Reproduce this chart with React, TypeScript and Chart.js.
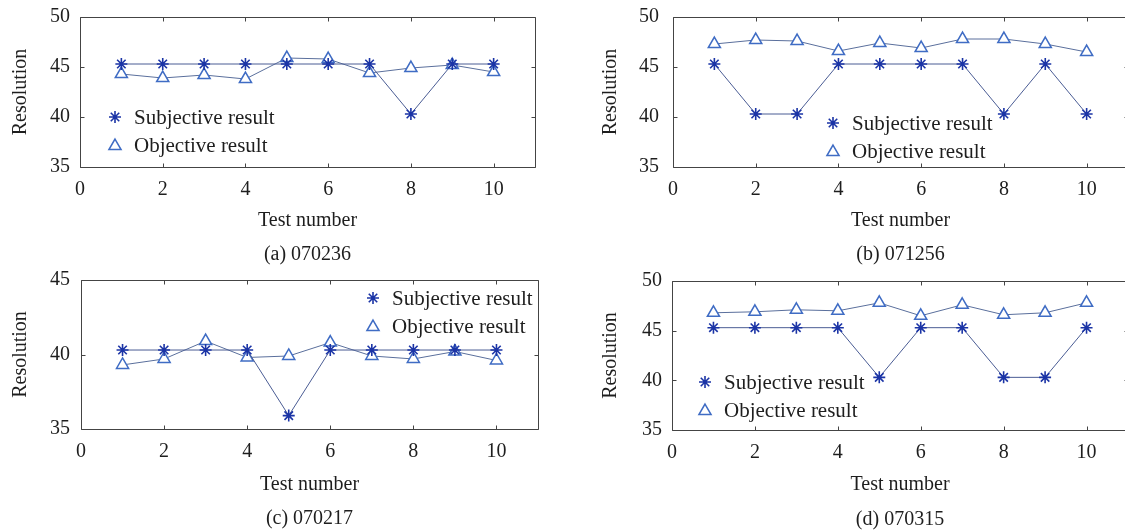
import React, { useEffect, useRef } from 'react';
import { Chart, registerables } from 'chart.js';

Chart.register(...registerables);

// ---------- data ----------
const testNumbers = [1, 2, 3, 4, 5, 6, 7, 8, 9, 10];
const xTickValues = [0, 2, 4, 6, 8, 10];
const yTicksWide = [35, 40, 45, 50];
const yTicksNarrow = [35, 40, 45];

const subjectiveA = [45.3, 45.3, 45.3, 45.3, 45.3, 45.3, 45.3, 40.3, 45.3, 45.3];
const objectiveA = [44.3, 43.9, 44.2, 43.8, 45.9, 45.8, 44.4, 44.9, 45.2, 44.5];
const subjectiveB = [45.3, 40.3, 40.3, 45.3, 45.3, 45.3, 45.3, 40.3, 45.3, 40.3];
const objectiveB = [47.3, 47.7, 47.6, 46.6, 47.4, 46.9, 47.8, 47.8, 47.3, 46.5];
const subjectiveC = [40.3, 40.3, 40.3, 40.3, 35.9, 40.3, 40.3, 40.3, 40.3, 40.3];
const objectiveC = [39.3, 39.7, 40.9, 39.8, 39.9, 40.8, 39.9, 39.7, 40.2, 39.6];
const subjectiveD = [45.3, 45.3, 45.3, 45.3, 40.3, 45.3, 45.3, 40.3, 40.3, 45.3];
const objectiveD = [46.8, 46.9, 47.1, 47.0, 47.8, 46.5, 47.6, 46.6, 46.8, 47.8];

const captions = ['(a) 070236', '(b) 071256', '(c) 070217', '(d) 070315'];
const seriesNames = ['Subjective result', 'Objective result'];
const xTitleText = 'Test number';
const yTitleText = 'Resolution';

// ---------- styles ----------
const FONT_FAMILY = '"Liberation Serif", "Times New Roman", serif';
const TEXT_COLOR = '#1e1e1e';
const FRAME_COLOR = '#444444';
const STAR_COLOR = '#1b34a6';
const TRI_COLOR = '#3f6cc4';
const SUBJ_LINE = '#4a5c94';
const OBJ_LINE = '#5a6f9c';
const STAR_R = 6;
const TRI_R = 7;

type PanelCfg = {
  left: number; top: number; W: number;
  area: { left: number; top: number; right: number; bottom: number };
  yTitleX: number; xTitleY: number; captionY: number;
  yTickPad: number;
  yMin: number; yMax: number; yTicks: number[];
  subjective: number[]; objective: number[];
  caption: string;
  legend: { dx: number; dy: number };
};

const panels: PanelCfg[] = [
  {
    left: 0, top: 0, W: 562,
    area: { left: 80, top: 17, right: 535, bottom: 167 },
    yTitleX: 21, xTitleY: 221, captionY: 255, yTickPad: 10,
    yMin: 35, yMax: 50, yTicks: yTicksWide,
    subjective: subjectiveA, objective: objectiveA, caption: captions[0],
    legend: { dx: 35, dy: 100 },
  },
  {
    left: 562, top: 0, W: 580,
    area: { left: 673, top: 17, right: 1128, bottom: 167 },
    yTitleX: 611, xTitleY: 221, captionY: 255, yTickPad: 14,
    yMin: 35, yMax: 50, yTicks: yTicksWide,
    subjective: subjectiveB, objective: objectiveB, caption: captions[1],
    legend: { dx: 160, dy: 106 },
  },
  {
    left: 0, top: 265, W: 562,
    area: { left: 81, top: 280, right: 538, bottom: 429 },
    yTitleX: 21, xTitleY: 485, captionY: 519, yTickPad: 11,
    yMin: 35, yMax: 45, yTicks: yTicksNarrow,
    subjective: subjectiveC, objective: objectiveC, caption: captions[2],
    legend: { dx: 292, dy: 18 },
  },
  {
    left: 562, top: 265, W: 580,
    area: { left: 672, top: 281, right: 1128, bottom: 430 },
    yTitleX: 611, xTitleY: 485, captionY: 520, yTickPad: 10,
    yMin: 35, yMax: 50, yTicks: yTicksWide,
    subjective: subjectiveD, objective: objectiveD, caption: captions[3],
    legend: { dx: 33, dy: 101 },
  },
];

function drawStar(ctx: CanvasRenderingContext2D, x: number, y: number, r: number) {
  ctx.beginPath();
  ctx.moveTo(x - r, y); ctx.lineTo(x + r, y);
  ctx.moveTo(x, y - r); ctx.lineTo(x, y + r);
  const d = r * Math.SQRT1_2;
  ctx.moveTo(x - d, y - d); ctx.lineTo(x + d, y + d);
  ctx.moveTo(x - d, y + d); ctx.lineTo(x + d, y - d);
  ctx.stroke();
}

function drawTriangle(ctx: CanvasRenderingContext2D, x: number, y: number, r: number) {
  const w = r * Math.sin(Math.PI / 3);
  ctx.beginPath();
  ctx.moveTo(x, y - r);
  ctx.lineTo(x + w, y + r / 2);
  ctx.lineTo(x - w, y + r / 2);
  ctx.closePath();
  ctx.fill();
  ctx.stroke();
}

const framePlugin = {
  id: 'matFrame',
  beforeDatasetsDraw(chart: any) {
    const { ctx, chartArea: a, scales } = chart;
    const xs = scales.x;
    const ys = scales.y;
    const L = Math.round(a.left) + 0.5;
    const T = Math.round(a.top) + 0.5;
    const R = Math.round(a.right) + 0.5;
    const B = Math.round(a.bottom) + 0.5;
    ctx.save();
    ctx.strokeStyle = FRAME_COLOR;
    ctx.lineWidth = 1;
    ctx.beginPath();
    ctx.moveTo(L, T); ctx.lineTo(R, T); ctx.lineTo(R, B); ctx.lineTo(L, B); ctx.closePath();
    xs.ticks.forEach((t: any) => {
      const px = Math.round(xs.getPixelForValue(t.value)) + 0.5;
      ctx.moveTo(px, B); ctx.lineTo(px, B - 4);
      ctx.moveTo(px, T); ctx.lineTo(px, T + 4);
    });
    ys.ticks.forEach((t: any) => {
      const py = Math.round(ys.getPixelForValue(t.value)) + 0.5;
      ctx.moveTo(L, py); ctx.lineTo(L + 4, py);
      ctx.moveTo(R, py); ctx.lineTo(R - 4, py);
    });
    ctx.stroke();
    ctx.restore();
  },
};

const legendPlugin = {
  id: 'matLegend',
  afterDraw(chart: any, _args: any, opts: any) {
    const { ctx, chartArea: a } = chart;
    const x = a.left + opts.dx;
    let y = a.top + opts.dy;
    ctx.save();
    ctx.font = `21px ${FONT_FAMILY}`;
    ctx.textBaseline = 'middle';
    ctx.textAlign = 'left';
    ctx.strokeStyle = STAR_COLOR;
    ctx.lineWidth = 1.6;
    drawStar(ctx, x, y, STAR_R);
    ctx.fillStyle = TEXT_COLOR;
    ctx.fillText(seriesNames[0], x + 19, y + 1);
    y += 28;
    ctx.strokeStyle = TRI_COLOR;
    ctx.fillStyle = '#ffffff';
    ctx.lineWidth = 1.5;
    drawTriangle(ctx, x, y + 1, TRI_R);
    ctx.fillStyle = TEXT_COLOR;
    ctx.fillText(seriesNames[1], x + 19, y + 1);
    ctx.restore();
  },
};

function Panel({ cfg }: { cfg: PanelCfg }) {
  const ref = useRef<HTMLCanvasElement>(null);
  const H = cfg.captionY - cfg.top + 12;
  useEffect(() => {
    const xAxisBottom = cfg.xTitleY - cfg.top + 12;
    const titleTopPad = H - 24 - xAxisBottom;
    const xAxisHeight = xAxisBottom - (cfg.area.bottom - cfg.top);
    const yAxisWidth = cfg.area.left - cfg.left;
    const yTitlePad = cfg.yTitleX - cfg.left - 12;
    const font = { family: FONT_FAMILY, size: 20 };
    const chart = new Chart(ref.current as HTMLCanvasElement, {
      type: 'line',
      data: {
        datasets: [
          {
            label: seriesNames[0],
            data: testNumbers.map((t, i) => ({ x: t, y: cfg.subjective[i] })),
            borderColor: SUBJ_LINE,
            borderWidth: 1,
            pointStyle: 'star',
            pointRadius: STAR_R,
            pointBorderColor: STAR_COLOR,
            pointBackgroundColor: STAR_COLOR,
            pointBorderWidth: 1.6,
            tension: 0,
            fill: false,
          },
          {
            label: seriesNames[1],
            data: testNumbers.map((t, i) => ({ x: t, y: cfg.objective[i] })),
            borderColor: OBJ_LINE,
            borderWidth: 1,
            pointStyle: 'triangle',
            pointRadius: TRI_R,
            pointBorderColor: TRI_COLOR,
            pointBackgroundColor: '#ffffff',
            pointBorderWidth: 1.5,
            tension: 0,
            fill: false,
          },
        ],
      },
      options: {
        animation: false,
        responsive: false,
        devicePixelRatio: 1,
        events: [],
        layout: {
          padding: {
            top: cfg.area.top - cfg.top,
            right: cfg.W - (cfg.area.right - cfg.left),
            bottom: 0,
            left: 0,
          },
        },
        scales: {
          x: {
            type: 'linear',
            min: 0,
            max: 11,
            afterBuildTicks: (s: any) => { s.ticks = xTickValues.map((v) => ({ value: v })); },
            afterFit: (s: any) => {
              s.height = xAxisHeight;
              s.paddingLeft = 0; s.paddingRight = 0; s.paddingTop = 0; s.paddingBottom = 0;
            },
            grid: { display: false, drawTicks: false },
            border: { display: false },
            ticks: { padding: 11, font, color: TEXT_COLOR, maxRotation: 0, autoSkip: false },
            title: { display: true, text: xTitleText, font, color: TEXT_COLOR, padding: { top: 0, bottom: 0 } },
          },
          y: {
            type: 'linear',
            min: cfg.yMin,
            max: cfg.yMax,
            afterBuildTicks: (s: any) => { s.ticks = cfg.yTicks.map((v) => ({ value: v })); },
            afterFit: (s: any) => {
              s.width = yAxisWidth;
              s.paddingLeft = 0; s.paddingRight = 0; s.paddingTop = 0; s.paddingBottom = 0;
            },
            grid: { display: false, drawTicks: false },
            border: { display: false },
            ticks: { padding: cfg.yTickPad, font, color: TEXT_COLOR, autoSkip: false },
            title: { display: true, text: yTitleText, font, color: TEXT_COLOR, padding: { top: yTitlePad, bottom: 0 } },
          },
        },
        plugins: {
          legend: { display: false },
          tooltip: { enabled: false },
          title: {
            display: true,
            text: cfg.caption,
            position: 'bottom',
            fullSize: false,
            font: { family: FONT_FAMILY, size: 20, weight: 'normal' },
            color: TEXT_COLOR,
            padding: { top: titleTopPad, bottom: 0 },
          },
          matLegend: cfg.legend,
        } as any,
      },
      plugins: [framePlugin, legendPlugin],
    } as any);
    return () => chart.destroy();
  }, []);
  return (
    <canvas
      ref={ref}
      width={cfg.W}
      height={H}
      style={{ position: 'absolute', left: cfg.left, top: cfg.top, width: cfg.W, height: H }}
    />
  );
}

export default function App() {
  return (
    <div
      style={{
        position: 'absolute', left: 0, top: 0, width: 1125, height: 531,
        overflow: 'hidden', background: '#ffffff',
      }}
    >
      {panels.map((p, i) => (
        <Panel key={i} cfg={p} />
      ))}
    </div>
  );
}
